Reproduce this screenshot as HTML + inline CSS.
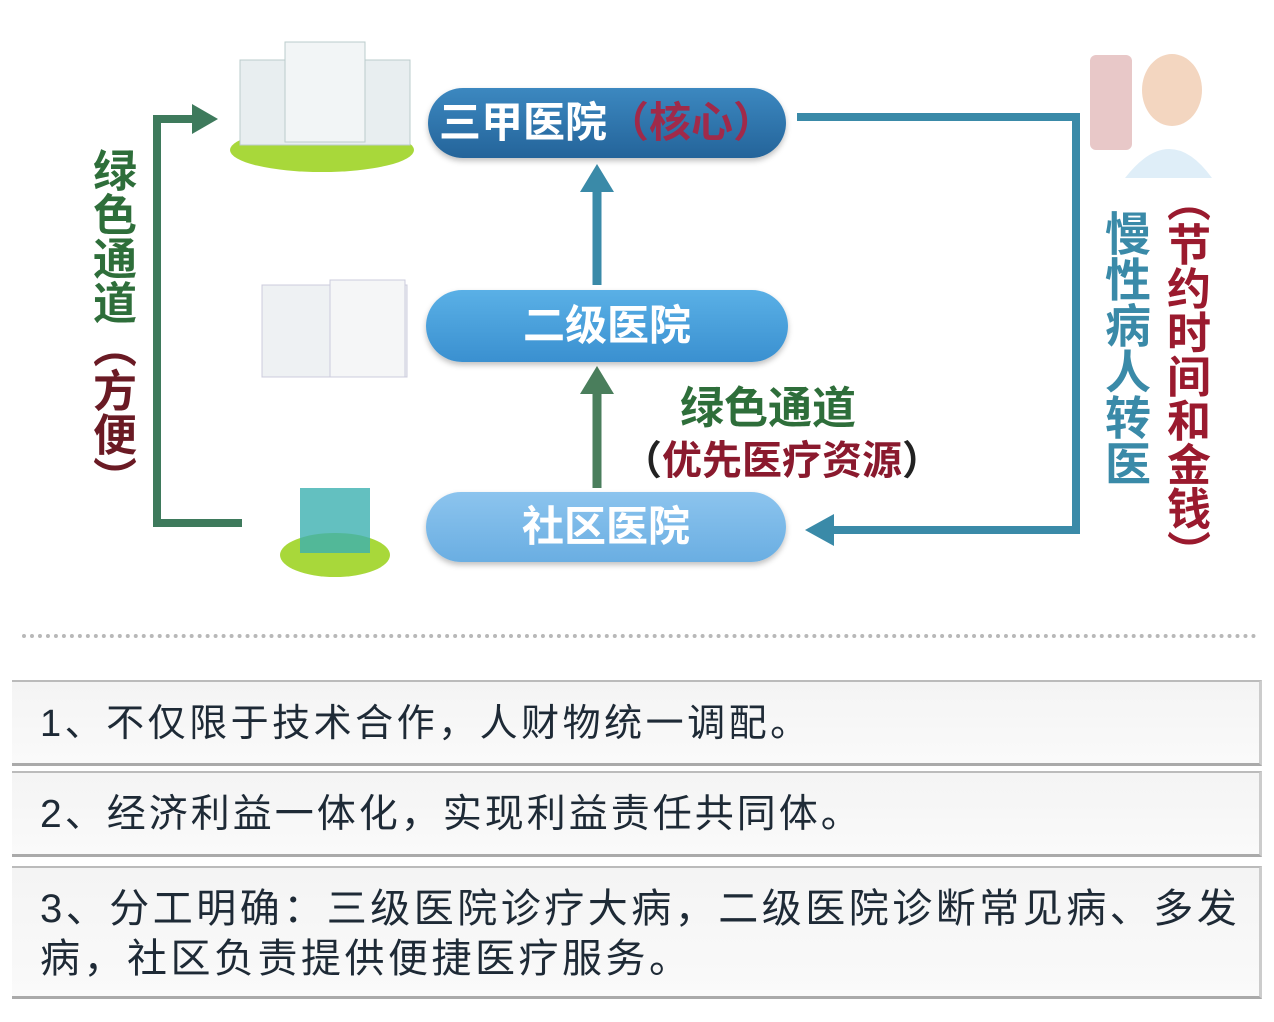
<!DOCTYPE html>
<html><head><meta charset="utf-8"><style>
body{margin:0;width:1274px;height:1022px;background:#fff;position:relative;overflow:hidden;font-family:"Liberation Sans","Noto Sans CJK SC",sans-serif}
.a{position:absolute}
.pill{position:absolute;border-radius:36px;color:#fff;font-weight:bold;font-size:42px;text-align:center;box-shadow:0 3px 6px rgba(0,0,0,.25)}
.v{position:absolute;writing-mode:vertical-rl;font-weight:bold;line-height:1}
.box{position:absolute;left:12px;width:1250px;background:linear-gradient(#f4f4f4,#fafafa);border-top:2px solid #bbb;border-bottom:3px solid #aaa;border-right:3px solid #ccc;color:#1e2a36;box-sizing:border-box;padding-left:28px;white-space:nowrap;overflow:hidden}
</style></head><body>
<svg class="a" style="left:0;top:0" width="1274" height="620">
<polyline points="242,523 157,523 157,119 195,119" fill="none" stroke="#3e7a5c" stroke-width="8"/>
<polygon points="192,104 218,119 192,134" fill="#3e7a5c"/>
<polyline points="797,117 1076,117 1076,530 830,530" fill="none" stroke="#3a8aa8" stroke-width="8"/>
<polygon points="834,514 805,530 834,546" fill="#3a8aa8"/>
<line x1="597" y1="285" x2="597" y2="190" stroke="#3a8aa8" stroke-width="9"/>
<polygon points="580,192 597,164 614,192" fill="#3a8aa8"/>
<line x1="597" y1="488" x2="597" y2="392" stroke="#4a7e5c" stroke-width="9"/>
<polygon points="580,394 597,366 614,394" fill="#4a7e5c"/>
<ellipse cx="322" cy="150" rx="92" ry="22" fill="#a8d83a"/>
<rect x="240" y="60" width="170" height="85" fill="#e8eef0" stroke="#bcc" />
<rect x="285" y="42" width="80" height="100" fill="#f2f5f6" stroke="#bcc"/>
<rect x="262" y="285" width="145" height="92" fill="#eef1f3" stroke="#ccd"/>
<rect x="330" y="280" width="75" height="97" fill="#f5f6f7" stroke="#ccd"/>
<ellipse cx="335" cy="555" rx="55" ry="22" fill="#a8d83a"/>
<rect x="300" y="488" width="70" height="65" fill="#3cb0b0" opacity=".8"/>
<rect x="1090" y="55" width="42" height="95" fill="#e8c8c8" rx="6"/>
<ellipse cx="1172" cy="90" rx="30" ry="36" fill="#f3d6c0"/>
<path d="M1125 178 Q1170 120 1212 178 Z" fill="#dfeef8"/>
</svg>
<div class="pill" style="left:428px;top:88px;width:358px;height:70px;line-height:70px;background:linear-gradient(#3c88c0,#24649a)">三甲医院<span style="color:#a02a4a">（核心）</span></div>
<div class="pill" style="left:426px;top:290px;width:362px;height:72px;line-height:72px;background:linear-gradient(#5ab0e6,#3a90d0)">二级医院</div>
<div class="pill" style="left:426px;top:492px;width:360px;height:70px;line-height:70px;background:linear-gradient(#8cc4ee,#6aaee2)">社区医院</div>
<div class="a" style="left:680px;top:372px;font-size:44px;font-weight:bold;color:#2e6e3a">绿色通道</div>
<div class="a" style="left:622px;top:428px;font-size:40px;font-weight:bold;color:#8a1a2e"><span style="color:#222">（</span>优先医疗资源<span style="color:#222">）</span></div>
<div class="v" style="left:88px;top:148px;font-size:44px;color:#2e6e3a">绿色通道<span style="color:#6a1a24">（方便）</span></div>
<div class="v" style="left:1102px;top:210px;font-size:46px;color:#3a8aa8">慢性病人转医</div>
<div class="v" style="left:1162px;top:178px;font-size:44px;color:#9a1a2e">（节约时间和金钱）</div>
<div class="a" style="left:22px;top:634px;width:1235px;border-top:4px dotted #b8b8b8"></div>
<div class="box" style="top:680px;height:86px;line-height:84px;font-size:38px;letter-spacing:3.5px">1、不仅限于技术合作，人财物统一调配。</div>
<div class="box" style="top:771px;height:86px;line-height:84px;font-size:39px;letter-spacing:3px">2、经济利益一体化，实现利益责任共同体。</div>
<div class="box" style="top:866px;height:133px;line-height:50px;padding-top:16px;font-size:40px;letter-spacing:3.5px">3、分工明确：三级医院诊疗大病，二级医院诊断常见病、多发<br>病，社区负责提供便捷医疗服务。</div>
</body></html>
